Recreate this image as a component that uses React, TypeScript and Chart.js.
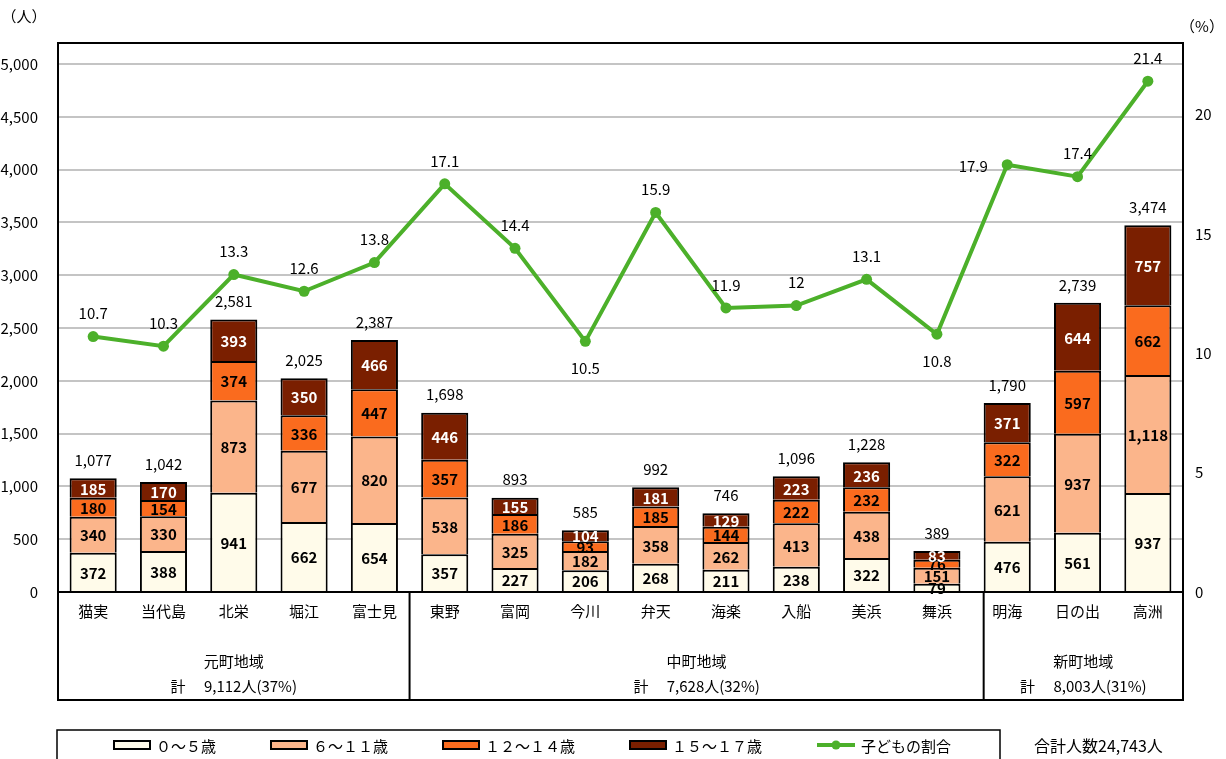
import { useEffect, useRef } from 'react';
import { Chart, registerables } from 'chart.js';

Chart.register(...registerables);

// ---------- data ----------
const categories = ['猫実', '当代島', '北栄', '堀江', '富士見', '東野', '富岡', '今川', '弁天', '海楽', '入船', '美浜', '舞浜', '明海', '日の出', '高洲'];
const age0to5 = [372, 388, 941, 662, 654, 357, 227, 206, 268, 211, 238, 322, 79, 476, 561, 937];
const age6to11 = [340, 330, 873, 677, 820, 538, 325, 182, 358, 262, 413, 438, 151, 621, 937, 1118];
const age12to14 = [180, 154, 374, 336, 447, 357, 186, 93, 185, 144, 222, 232, 76, 322, 597, 662];
const age15to17 = [185, 170, 393, 350, 466, 446, 155, 104, 181, 129, 223, 236, 83, 371, 644, 757];
const childRatio = [10.7, 10.3, 13.3, 12.6, 13.8, 17.1, 14.4, 10.5, 15.9, 11.9, 12, 13.1, 10.8, 17.9, 17.4, 21.4];
const ratioLabelPlacement = ['above', 'above', 'above', 'above', 'above', 'above', 'above', 'below', 'above', 'above', 'above', 'above', 'below', 'left', 'above', 'above'];

const seriesNames = ['０～５歳', '６～１１歳', '１２～１４歳', '１５～１７歳'];
const lineName = '子どもの割合';

const groupNames = ['元町地域', '中町地域', '新町地域'];
const groupSizes = [5, 8, 3];
const groupTotals = [9112, 7628, 8003];
const groupShares = [37, 32, 31];

const leftAxisTitle = '（人）';
const rightAxisTitle = '（%）';
const leftTicks = [0, 500, 1000, 1500, 2000, 2500, 3000, 3500, 4000, 4500, 5000];
const rightTicks = [0, 5, 10, 15, 20];
const leftAxisMax = 5200;
const rightAxisMax = 23;

// ---------- style ----------
const FONT = '"Noto Sans CJK JP", "Noto Sans", sans-serif';
const barColors = ['#FFFBEA', '#FBB58B', '#FA6B1E', '#7A1F00'];
const labelColors = ['#000', '#000', '#000', '#fff'];
const lineColor = '#4CB02A';

const fmt = (n: number) => n.toLocaleString('en-US');

const decorPlugin = {
  id: 'decor',
  afterDatasetsDraw(chart: any) {
    const ctx = chart.ctx as CanvasRenderingContext2D;
    ctx.save();
    ctx.textAlign = 'center';
    ctx.textBaseline = 'middle';
    // segment labels
    for (let d = 0; d < 4; d++) {
      const meta = chart.getDatasetMeta(d);
      const vals = chart.data.datasets[d].data as number[];
      meta.data.forEach((el: any, i: number) => {
        const p = el.getProps(['x', 'y', 'base'], true);
        ctx.font = `bold 15px ${FONT}`;
        ctx.fillStyle = labelColors[d];
        ctx.fillText(fmt(vals[i]), p.x, (p.y + p.base) / 2 + 1);
      });
    }
    // totals
    const topMeta = chart.getDatasetMeta(3);
    topMeta.data.forEach((el: any, i: number) => {
      const total = age0to5[i] + age6to11[i] + age12to14[i] + age15to17[i];
      ctx.font = `15px ${FONT}`;
      ctx.fillStyle = '#000';
      ctx.fillText(fmt(total), el.x, el.y - 18);
    });
    // line labels
    const lineMeta = chart.getDatasetMeta(4);
    lineMeta.data.forEach((el: any, i: number) => {
      const place = ratioLabelPlacement[i];
      let x = el.x, y = el.y - 23;
      if (place === 'below') y = el.y + 27;
      if (place === 'left') { x = el.x - 34; y = el.y + 2; }
      ctx.font = `15px ${FONT}`;
      ctx.fillStyle = '#000';
      ctx.fillText(String(childRatio[i]), x, y);
    });
    ctx.restore();
  },
  afterDraw(chart: any) {
    const ctx = chart.ctx as CanvasRenderingContext2D;
    const area = chart.chartArea;
    const xs = chart.scales.x;
    ctx.save();
    ctx.strokeStyle = '#000';
    ctx.lineWidth = 2;
    // top frame line
    ctx.beginPath();
    ctx.moveTo(area.left, area.top);
    ctx.lineTo(area.right, area.top);
    ctx.stroke();

    // category region box
    const boxBottom = area.bottom + 108;
    ctx.beginPath();
    ctx.moveTo(area.left, area.bottom);
    ctx.lineTo(area.left, boxBottom);
    ctx.lineTo(area.right, boxBottom);
    ctx.lineTo(area.right, area.bottom);
    ctx.stroke();

    // separators
    const barMeta = chart.getDatasetMeta(0);
    const seps: number[] = [area.left];
    let idx = 0;
    for (let g = 0; g < groupSizes.length - 1; g++) {
      idx += groupSizes[g];
      let sx: number;
      if (g === 0) {
        sx = (xs.getPixelForValue(idx - 1) + xs.getPixelForValue(idx)) / 2;
      } else {
        const el = barMeta.data[idx];
        sx = el.x - el.width / 2;
      }
      seps.push(sx);
      ctx.beginPath();
      ctx.moveTo(sx, area.bottom);
      ctx.lineTo(sx, boxBottom);
      ctx.stroke();
    }
    seps.push(area.right);

    ctx.fillStyle = '#000';
    ctx.textAlign = 'center';
    ctx.textBaseline = 'middle';
    ctx.font = `15px ${FONT}`;
    groupNames.forEach((name, g) => {
      const cx = (seps[g] + seps[g + 1]) / 2;
      ctx.fillText(name, cx, area.bottom + 69);
      ctx.fillText(`計　 ${fmt(groupTotals[g])}人(${groupShares[g]}%)`, cx, area.bottom + 94);
    });

    // axis titles
    ctx.font = `15px ${FONT}`;
    ctx.fillText(leftAxisTitle, 24, 16);
    ctx.fillText(rightAxisTitle, 1202, 26);

    // legend box
    const lgTop = boxBottom + 30;
    const lgLeft = area.left - 1;
    const lgRight = 1000;
    ctx.lineWidth = 1.5;
    ctx.strokeRect(lgLeft, lgTop, lgRight - lgLeft, 60);
    const ly = lgTop + 15;
    ctx.font = `15px ${FONT}`;
    const items = [...seriesNames, lineName];
    const symW = [36, 36, 36, 36, 38];
    const gapText = 6;
    const gapItem = 55;
    const widths = items.map((t, i) => symW[i] + gapText + ctx.measureText(t).width);
    const totalW = widths.reduce((a, b) => a + b, 0) + gapItem * (items.length - 1);
    let x = (lgLeft + lgRight) / 2 - totalW / 2 + 4;
    ctx.textAlign = 'left';
    items.forEach((t, i) => {
      if (i < 4) {
        ctx.fillStyle = barColors[i];
        ctx.fillRect(x, ly - 4, symW[i], 8);
        ctx.strokeStyle = '#000';
        ctx.lineWidth = 2;
        ctx.strokeRect(x, ly - 4, symW[i], 8);
      } else {
        ctx.strokeStyle = lineColor;
        ctx.lineWidth = 4;
        ctx.beginPath();
        ctx.moveTo(x, ly);
        ctx.lineTo(x + symW[i], ly);
        ctx.stroke();
        ctx.fillStyle = lineColor;
        ctx.beginPath();
        ctx.arc(x + symW[i] / 2, ly, 4.5, 0, Math.PI * 2);
        ctx.fill();
      }
      ctx.fillStyle = '#000';
      ctx.fillText(t, x + symW[i] + gapText, ly + 1);
      x += widths[i] + gapItem;
    });

    // grand total
    const grand = groupTotals.reduce((a, b) => a + b, 0);
    ctx.font = `16px ${FONT}`;
    ctx.fillText(`合計人数${fmt(grand)}人`, 1034, ly + 1);
    ctx.restore();
  },
};

export default function App() {
  const ref = useRef<HTMLCanvasElement>(null);
  useEffect(() => {
    document.body.style.margin = '0';
    Chart.defaults.font.family = FONT;
    Chart.defaults.color = '#000';
    const barDs = [age0to5, age6to11, age12to14, age15to17].map((d, i) => ({
      type: 'bar' as const,
      label: seriesNames[i],
      data: d,
      backgroundColor: barColors[i],
      borderColor: '#000',
      borderWidth: { top: 2, bottom: 0, left: 2, right: 2 },
      borderSkipped: false,
      barPercentage: 0.67,
      categoryPercentage: 1,
      stack: 'age',
      yAxisID: 'y',
      order: 1,
    }));
    const chart = new Chart(ref.current!, {
      type: 'bar',
      data: {
        labels: categories,
        datasets: [
          ...barDs,
          {
            type: 'line' as const,
            label: lineName,
            data: childRatio,
            borderColor: lineColor,
            backgroundColor: lineColor,
            borderWidth: 4,
            pointRadius: 5.5,
            pointBorderWidth: 0,
            pointBackgroundColor: lineColor,
            tension: 0,
            yAxisID: 'y1',
            order: 0,
          },
        ] as any,
      },
      options: {
        responsive: false,
        animation: false,
        layout: { padding: { top: 43, left: 0, right: 0, bottom: 0 } },
        plugins: { legend: { display: false }, tooltip: { enabled: false }, title: { display: false } },
        scales: {
          x: {
            stacked: true,
            grid: { display: false, drawTicks: false },
            border: { display: true, color: '#000', width: 2 },
            ticks: { font: { size: 15, family: FONT }, color: '#000', padding: 10, maxRotation: 0, autoSkip: false },
            afterFit: (s: any) => { s.height = 167; },
          },
          y: {
            stacked: true,
            min: 0,
            max: leftAxisMax,
            position: 'left',
            afterBuildTicks: (s: any) => { s.ticks = leftTicks.map((v) => ({ value: v })); },
            grid: { color: '#C4C4C4', lineWidth: 2, drawTicks: false },
            border: { display: true, color: '#000', width: 2 },
            ticks: {
              autoSkip: false,
              padding: 20,
              font: { size: 15, family: FONT },
              color: '#000',
              callback: (v: any) => fmt(Number(v)),
            },
            afterFit: (s: any) => { s.width = 58; },
          },
          y1: {
            min: 0,
            max: rightAxisMax,
            position: 'right',
            afterBuildTicks: (s: any) => { s.ticks = rightTicks.map((v) => ({ value: v })); },
            grid: { display: false, drawTicks: false },
            border: { display: true, color: '#000', width: 2 },
            ticks: { autoSkip: false, padding: 12, font: { size: 15, family: FONT }, color: '#000' },
            afterFit: (s: any) => { s.width = 43; },
          },
        },
      } as any,
      plugins: [decorPlugin],
    });
    return () => chart.destroy();
  }, []);
  return (
    <div style={{ width: 1226, height: 759, background: '#fff' }}>
      <canvas ref={ref} width={1226} height={759} style={{ display: 'block' }} />
    </div>
  );
}
